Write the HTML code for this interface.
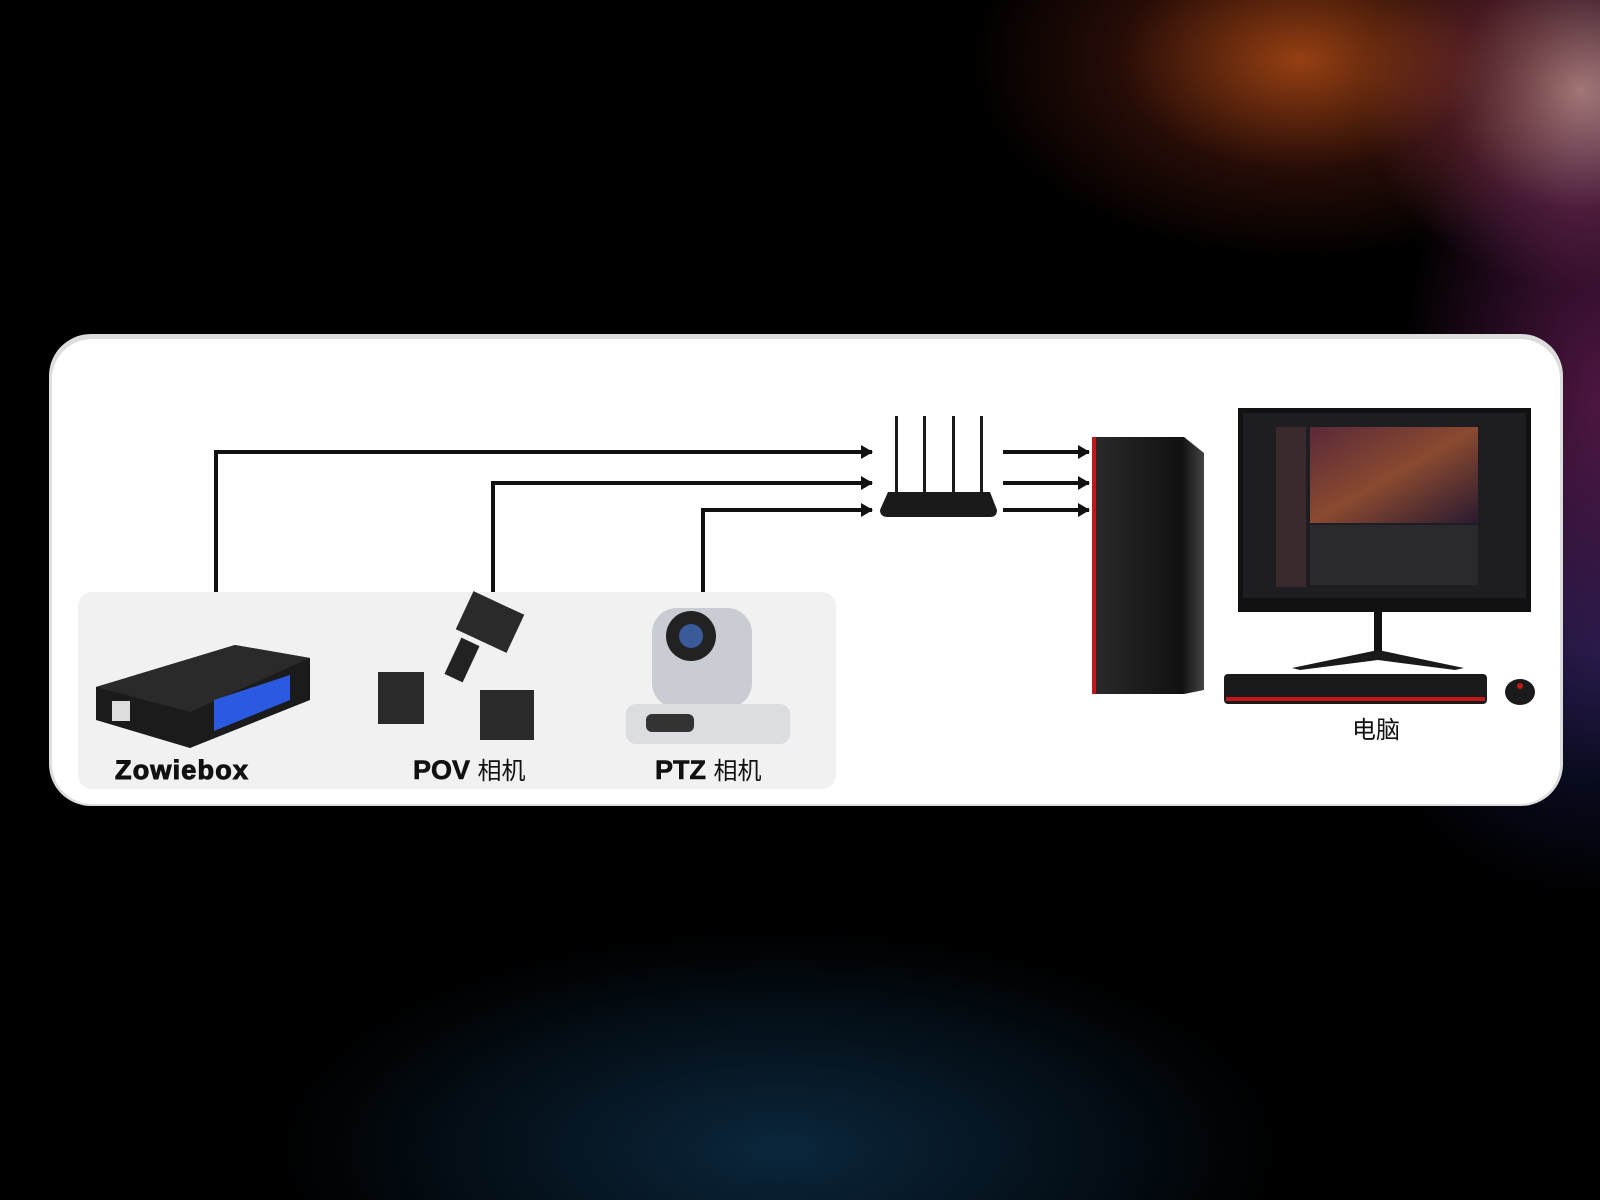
<!DOCTYPE html>
<html><head><meta charset="utf-8"><style>
html,body{margin:0;padding:0;width:1600px;height:1200px;overflow:hidden;background:#000}
.bg{position:absolute;left:0;top:0;width:1600px;height:1200px;
background:
radial-gradient(ellipse 330px 200px at 1300px 60px, rgba(200,85,25,.75), rgba(110,35,20,.35) 55%, rgba(0,0,0,0) 100%),
radial-gradient(ellipse 220px 200px at 1580px 90px, rgba(220,170,170,.75), rgba(150,60,110,.35) 60%, rgba(0,0,0,0) 100%),
radial-gradient(ellipse 200px 380px at 1600px 400px, rgba(140,40,120,.55), rgba(0,0,0,0) 100%),
radial-gradient(ellipse 500px 220px at 780px 1150px, rgba(20,70,110,.55), rgba(0,0,0,0) 100%),
radial-gradient(ellipse 250px 250px at 1600px 650px, rgba(40,50,140,.45), rgba(0,0,0,0) 100%),
#000}
svg{position:absolute;left:0;top:0}
text{font-family:"Liberation Sans","Noto Sans CJK SC",sans-serif}
</style></head><body>
<div class="bg"></div>
<svg width="1600" height="1200" viewBox="0 0 1600 1200">
<defs>
<marker id="ar" markerWidth="12" markerHeight="14" refX="11" refY="7" orient="auto" markerUnits="userSpaceOnUse"><path d="M0,0 L12,7 L0,14 Z" fill="#111"/></marker>
<linearGradient id="tw" x1="0" x2="1"><stop offset="0" stop-color="#2a2a2a"/><stop offset=".8" stop-color="#111"/><stop offset="1" stop-color="#444"/></linearGradient>
<linearGradient id="scr" x1="0" y1="0" x2="1" y2="1"><stop offset="0" stop-color="#5a2a3a"/><stop offset=".5" stop-color="#8a4a30"/><stop offset="1" stop-color="#2a1a30"/></linearGradient>
</defs>
<rect x="49" y="334" width="1514" height="472" rx="42" fill="#ddd"/>
<rect x="52" y="339" width="1508" height="465" rx="40" fill="#fff"/>
<rect x="78" y="592" width="758" height="197" rx="14" fill="#f1f1f1"/>
<g stroke="#111" stroke-width="4" fill="none">
<path d="M216,592 V452 H872" marker-end="url(#ar)"/>
<path d="M493,592 V483 H872" marker-end="url(#ar)"/>
<path d="M703,592 V510 H872" marker-end="url(#ar)"/>
<path d="M1003,452 H1089" marker-end="url(#ar)"/>
<path d="M1003,483 H1089" marker-end="url(#ar)"/>
<path d="M1003,510 H1089" marker-end="url(#ar)"/>
</g>
<g fill="#1a1a1a"><rect x="895" y="416" width="3" height="80"/><rect x="923" y="416" width="3" height="80"/><rect x="952" y="416" width="3" height="80"/><rect x="980" y="416" width="3" height="80"/>
<path d="M888,492 H990 L997,510 Q997,517 990,517 H888 Q880,517 880,510 Z"/></g>
<path d="M96,687 L235,645 L310,658 L310,700 L190,748 L96,720 Z" fill="#1b1b1b"/>
<path d="M96,687 L190,712 L310,658 L235,645 Z" fill="#2a2a2a"/>
<path d="M214,700 L290,675 L290,700 L214,731 Z" fill="#2a5ae0"/>
<rect x="112" y="701" width="18" height="20" fill="#ddd"/>
<rect x="462" y="601" width="56" height="42" fill="#2a2a2a" transform="rotate(25 490 622)"/>
<rect x="452" y="640" width="20" height="40" fill="#222" transform="rotate(25 462 660)"/>
<rect x="378" y="672" width="46" height="52" fill="#2a2a2a"/>
<rect x="480" y="690" width="54" height="50" fill="#2a2a2a"/>
<rect x="652" y="608" width="100" height="100" rx="25" fill="#c9ccd2"/>
<circle cx="691" cy="636" r="25" fill="#222"/><circle cx="691" cy="636" r="12" fill="#3a5a9a"/>
<rect x="626" y="704" width="164" height="40" rx="10" fill="#dcdde0"/>
<rect x="646" y="714" width="48" height="18" rx="6" fill="#333"/>
<path d="M1092,437 H1184 L1204,453 V690 L1184,694 H1092 Z" fill="url(#tw)"/>
<rect x="1092" y="437" width="4" height="257" fill="#c0181a"/>
<rect x="1238" y="408" width="293" height="204" fill="#111"/>
<rect x="1243" y="413" width="283" height="185" fill="#1e1e22"/>
<rect x="1310" y="427" width="168" height="96" fill="url(#scr)"/>
<rect x="1310" y="525" width="168" height="60" fill="#2a2a2e"/>
<rect x="1276" y="427" width="30" height="160" fill="#3a2a2e"/>
<rect x="1374" y="612" width="8" height="45" fill="#111"/>
<path d="M1292,668 L1378,650 L1464,668 L1455,670 L1378,660 L1300,670 Z" fill="#1a1a1a"/>
<rect x="1224" y="674" width="263" height="30" rx="4" fill="#1a1a1a"/>
<rect x="1226" y="697" width="259" height="4" fill="#c0181a"/>
<ellipse cx="1520" cy="692" rx="15" ry="13" fill="#1a1a1a"/><circle cx="1520" cy="686" r="3" fill="#c0181a"/>
<g font-weight="bold" fill="#111" font-size="27">
<text x="115" y="779" letter-spacing="1.2" stroke="#111" stroke-width="1">Zowiebox</text>
<text x="413" y="779" stroke="#111" stroke-width="0.6">POV <tspan font-weight="normal" font-size="24" stroke-width="0">相机</tspan></text>
<text x="655" y="779" stroke="#111" stroke-width="0.6">PTZ <tspan font-weight="normal" font-size="24" stroke-width="0">相机</tspan></text>
</g>
<text x="1352" y="738" font-size="24" fill="#111">电脑</text>
</svg>
</body></html>
